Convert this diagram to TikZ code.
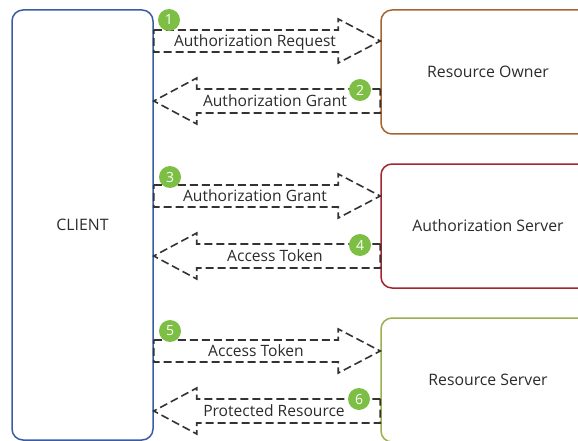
\documentclass[tikz,border=0pt]{standalone}
\usepackage{fontspec}
\setmainfont{Open Sans}
\usepackage{tikz}
\usetikzlibrary{calc}
\definecolor{ClientBlue}{HTML}{3A5CA3}
\definecolor{OwnerBrown}{HTML}{A8642F}
\definecolor{AuthRed}{HTML}{A32530}
\definecolor{ServerOlive}{HTML}{9AAF4E}
\definecolor{StepGreen}{HTML}{7CBF44}
\definecolor{FlowGray}{HTML}{333333}
\definecolor{TextGray}{HTML}{2B2B2B}

\begin{document}
\begin{tikzpicture}[x=1pt, y=-1pt,
  party/.style={rectangle, draw, rounded corners=11pt, line width=1.5pt,
    text=TextGray, font=\fontsize{15.8}{18}\selectfont},
  flow/.style={draw=FlowGray, dash pattern=on 8pt off 4pt, line width=1.6pt},
  msg/.style={text=TextGray, font=\fontsize{15.6}{18}\selectfont},
  badge/.style={circle, fill=StepGreen, text=white, inner sep=0pt,
    minimum size=22pt, font=\fontsize{14}{16}\selectfont}
]

\useasboundingbox (0,0) rectangle (578,441);
\clip (0,0) rectangle (578,441);

% Parties
\node[party, draw=ClientBlue, minimum width=141pt, minimum height=430pt] (client) at (82.5,225) {CLIENT};
\node[party, draw=OwnerBrown, minimum width=214pt, minimum height=124pt] (owner) at (488,72) {Resource Owner};
\node[party, draw=AuthRed, minimum width=214pt, minimum height=124pt] (auth) at (488,226) {Authorization Server};
\node[party, draw=ServerOlive, minimum width=214pt, minimum height=124pt] (server) at (488,380) {Resource Server};

% Step 1: client -> owner
\coordinate (s1) at (client.east |- 0,41);
\coordinate (t1) at (owner.west |- 0,41);
\draw[flow] ($(s1)+(0,-11)$) -- ($(t1)+(-42,-11)$) -- ($(t1)+(-42,-22)$) -- (t1)
  -- ($(t1)+(-42,22)$) -- ($(t1)+(-42,11)$) -- ($(s1)+(0,11)$) -- cycle;
\node[msg] (m1) at (255,42) {Authorization Request};

% Step 2: owner -> client
\coordinate (s2) at (owner.west |- 0,101);
\coordinate (t2) at (client.east |- 0,101);
\draw[flow] ($(s2)+(0,-12)$) -- ($(t2)+(43,-12)$) -- ($(t2)+(43,-23)$) -- (t2)
  -- ($(t2)+(43,23)$) -- ($(t2)+(43,12)$) -- ($(s2)+(0,12)$) -- cycle;
\node[msg] (m2) at (275,101) {Authorization Grant};

% Step 3: client -> auth
\coordinate (s3) at (client.east |- 0,196);
\coordinate (t3) at (auth.west |- 0,196);
\draw[flow] ($(s3)+(0,-11)$) -- ($(t3)+(-42,-11)$) -- ($(t3)+(-42,-22)$) -- (t3)
  -- ($(t3)+(-42,22)$) -- ($(t3)+(-42,11)$) -- ($(s3)+(0,11)$) -- cycle;
\node[msg] (m3) at (255,196) {Authorization Grant};

% Step 4: auth -> client
\coordinate (s4) at (auth.west |- 0,256);
\coordinate (t4) at (client.east |- 0,256);
\draw[flow] ($(s4)+(0,-12)$) -- ($(t4)+(43,-12)$) -- ($(t4)+(43,-23)$) -- (t4)
  -- ($(t4)+(43,23)$) -- ($(t4)+(43,12)$) -- ($(s4)+(0,12)$) -- cycle;
\node[msg] (m4) at (275,256) {Access Token};

% Step 5: client -> server
\coordinate (s5) at (client.east |- 0,351);
\coordinate (t5) at (server.west |- 0,351);
\draw[flow] ($(s5)+(0,-11)$) -- ($(t5)+(-42,-11)$) -- ($(t5)+(-42,-22)$) -- (t5)
  -- ($(t5)+(-42,22)$) -- ($(t5)+(-42,11)$) -- ($(s5)+(0,11)$) -- cycle;
\node[msg] (m5) at (256,351) {Access Token};

% Step 6: server -> client
\coordinate (s6) at (server.west |- 0,411);
\coordinate (t6) at (client.east |- 0,411);
\draw[flow] ($(s6)+(0,-12)$) -- ($(t6)+(43,-12)$) -- ($(t6)+(43,-23)$) -- (t6)
  -- ($(t6)+(43,23)$) -- ($(t6)+(43,12)$) -- ($(s6)+(0,12)$) -- cycle;
\node[msg] (m6) at (274,411) {Protected Resource};

% Step numbers
\node[badge] (b1) at (169,20) {1};
\node[badge] (b2) at (360,90) {2};
\node[badge] (b3) at (170,177) {3};
\node[badge] (b4) at (360,245) {4};
\node[badge] (b5) at (170,331) {5};
\node[badge] (b6) at (359,399) {6};

\end{tikzpicture}
\end{document}
